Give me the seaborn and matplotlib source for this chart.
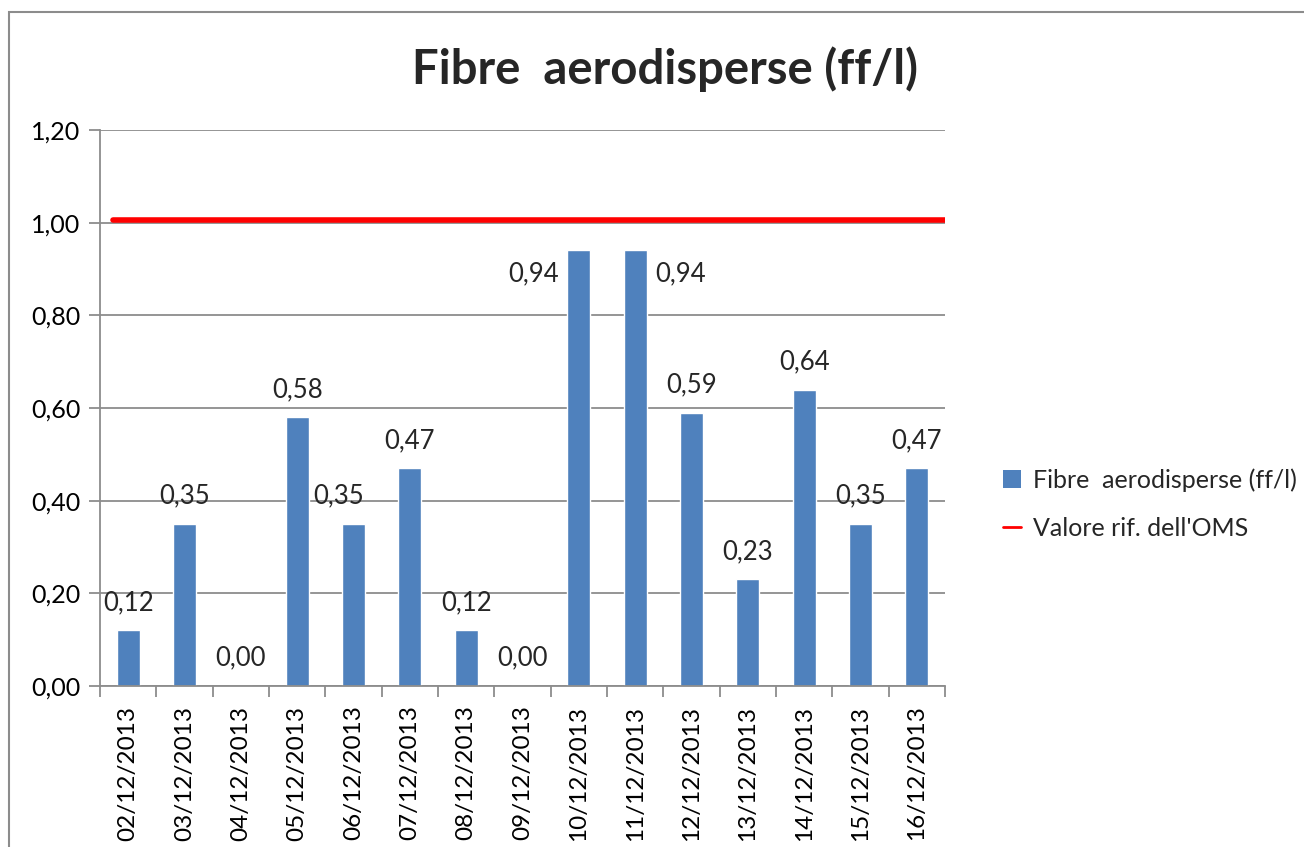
import matplotlib
matplotlib.use("Agg")
import matplotlib.pyplot as plt
import numpy as np
import pandas as pd
import seaborn as sns
from matplotlib.ticker import FuncFormatter, FixedLocator
from matplotlib.lines import Line2D
from matplotlib.patches import Patch, Rectangle

dates = ["02/12/2013", "03/12/2013", "04/12/2013", "05/12/2013", "06/12/2013",
         "07/12/2013", "08/12/2013", "09/12/2013", "10/12/2013", "11/12/2013",
         "12/12/2013", "13/12/2013", "14/12/2013", "15/12/2013", "16/12/2013"]
fibre = [0.12, 0.35, 0.00, 0.58, 0.35, 0.47, 0.12, 0.00, 0.94, 0.94,
         0.59, 0.23, 0.64, 0.35, 0.47]
oms_ref = 1.005

series_name = "Fibre  aerodisperse (ff/l)"
ref_name = "Valore rif. dell'OMS"

sns.set_theme(style="white")
plt.rcParams['font.family'] = ['Lato', 'DejaVu Sans']

df = pd.DataFrame({"data": dates, "valore": fibre})

fig = plt.figure(figsize=(13.04, 8.47), dpi=100)
ax = fig.add_axes([0.0767, 0.190, 0.648, 0.6565])

sns.barplot(data=df, x="data", y="valore", color="#4F81BD", width=0.41,
            saturation=1, ax=ax)
ax.axhline(oms_ref, xmin=0.015, xmax=1.0, color="#FF0000", lw=4, zorder=4)

ax.set_ylim(0, 1.2)
ax.set_xlim(-0.5, len(dates) - 0.5)
ax.set_yticks(np.arange(0, 1.21, 0.2))
ax.yaxis.set_major_formatter(FuncFormatter(lambda v, p: f"{v:.2f}".replace(".", ",")))
ax.yaxis.grid(True, color="#8C8C8C", lw=1.3)
ax.set_axisbelow(True)
ax.set_xlabel("")
ax.set_ylabel("")

for s in ["top", "right"]:
    ax.spines[s].set_visible(False)
for s in ["left", "bottom"]:
    ax.spines[s].set_color("#8C8C8C")
    ax.spines[s].set_linewidth(1.3)

ax.tick_params(axis="y", which="major", left=True, length=8, width=1.3,
               color="#8C8C8C", labelsize=18, pad=6)
ax.tick_params(axis="x", which="major", bottom=False, labelsize=17.5,
               labelrotation=90, pad=8)
ax.xaxis.set_minor_locator(FixedLocator(np.arange(-0.5, len(dates), 1.0)))
ax.tick_params(axis="x", which="minor", bottom=True, length=8, width=1.3,
               color="#8C8C8C")
for t in ax.get_xticklabels() + ax.get_yticklabels():
    t.set_color("black")

# data labels (Excel moves the two near the reference line to the side)
for i, v in enumerate(fibre):
    txt = f"{v:.2f}".replace(".", ",")
    if v > 0.9:
        side = -1 if i == fibre.index(v) else 1
        ax.annotate(txt, (i + side * 0.2, v), xytext=(side * 6, -17),
                    textcoords="offset points", ha="right" if side < 0 else "left",
                    va="center", fontsize=18.5)
    else:
        dx = -11 if i == 4 else 0
        ax.annotate(txt, (i, v), xytext=(dx, 20), textcoords="offset points",
                    ha="center", va="center", fontsize=18.5)

fig.text(0.510, 0.918, series_name, ha="center", va="center",
         fontsize=34, fontweight="bold")

handles = [Patch(facecolor="#4F81BD", edgecolor="none"),
           Line2D([0], [0], color="#FF0000", lw=2)]
leg = fig.legend(handles, [series_name, ref_name], loc="center left",
                 bbox_to_anchor=(0.752, 0.405), frameon=False, fontsize=18,
                 handlelength=0.7, handleheight=0.7, handletextpad=0.5,
                 labelspacing=1.0)

fig.patches.append(Rectangle((0.007, -0.1), 1.2, 1.086, transform=fig.transFigure,
                             fill=False, edgecolor="#8C8C8C", lw=1.5))

fig.savefig("out.png", dpi=100, facecolor="white")
